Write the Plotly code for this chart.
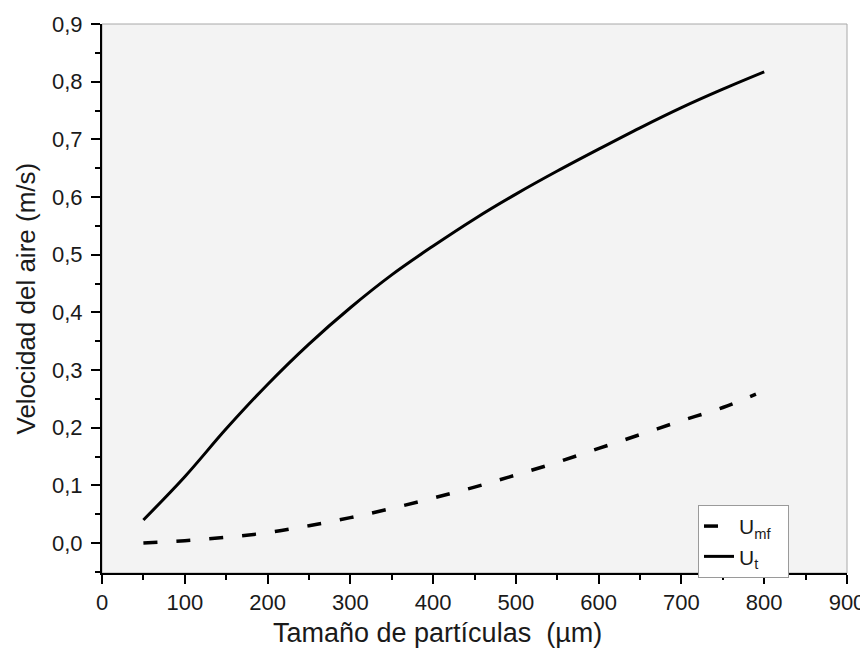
import plotly.graph_objects as go

# Data
size_ut = [50, 100, 150, 200, 250, 300, 350, 400, 450, 500, 550, 600, 650, 700, 750, 800]
u_t = [0.040, 0.115, 0.198, 0.275, 0.345, 0.408, 0.465, 0.515, 0.562, 0.605, 0.645, 0.683, 0.720, 0.755, 0.787, 0.817]

size_umf = [50, 100, 150, 200, 250, 300, 350, 400, 450, 500, 550, 600, 650, 700, 750, 790]
u_mf = [0.0, 0.004, 0.010, 0.018, 0.030, 0.044, 0.060, 0.078, 0.097, 0.118, 0.140, 0.164, 0.188, 0.212, 0.235, 0.258]

x_ticks = [0, 100, 200, 300, 400, 500, 600, 700, 800, 900]
y_ticks = [0.0, 0.1, 0.2, 0.3, 0.4, 0.5, 0.6, 0.7, 0.8, 0.9]

x_title = "Tamaño de partículas  (µm)"
y_title = "Velocidad del aire (m/s)"

FONT = "Liberation Sans, Arial, sans-serif"
TXT = "#1a1a1a"

fig = go.Figure()
fig.add_trace(go.Scatter(
    x=size_umf, y=u_mf, mode="lines", name="U<sub>mf</sub>  ",
    line=dict(color="black", width=3.5, dash="14px,19px", shape="spline"),
))
fig.add_trace(go.Scatter(
    x=size_ut, y=u_t, mode="lines", name="U<sub>t</sub>",
    line=dict(color="black", width=3, shape="spline"),
))

# page has an 8px body margin, so the figure is 8px smaller and shifted
fig.update_layout(
    width=860, height=649,
    margin=dict(l=94, r=21, t=16, b=84),
    paper_bgcolor="white",
    plot_bgcolor="#f3f3f3",
    separators=", ",
    font=dict(family=FONT, size=22, color=TXT),
    showlegend=True,
    legend=dict(
        x=0.8, y=0.124, xanchor="left", yanchor="top",
        bgcolor="white", bordercolor="#9a9a9a", borderwidth=1,
        font=dict(family=FONT, size=21, color=TXT),
        tracegroupgap=0, itemwidth=30,
    ),
    shapes=[dict(type="rect", xref="paper", yref="paper", x0=0, y0=0, x1=1, y1=1,
                 line=dict(color="#a8a8a8", width=1), layer="below")],
    annotations=[
        dict(text=x_title, xref="paper", yref="paper", x=0.45, y=0, yshift=-60,
             xanchor="center", yanchor="middle", showarrow=False,
             font=dict(family=FONT, size=27, color=TXT)),
        dict(text=y_title, xref="paper", yref="paper", x=0, y=0.5, xshift=-77,
             xanchor="center", yanchor="middle", textangle=-90, showarrow=False,
             font=dict(family=FONT, size=26, color=TXT)),
    ],
)

fig.update_xaxes(
    range=[0, 900], tickvals=x_ticks, ticktext=[str(v) for v in x_ticks],
    showgrid=False, zeroline=False, automargin=False,
    showline=True, linecolor="black", linewidth=2,
    ticks="outside", ticklen=9, tickwidth=2, tickcolor="black",
    minor=dict(ticks="outside", ticklen=5, tickwidth=2, tickcolor="black", dtick=50, tick0=0, showgrid=False),
    tickfont=dict(family=FONT, size=22, color=TXT),
)
fig.update_yaxes(
    range=[-0.052, 0.9], tickvals=y_ticks, tickformat=".1f",
    showgrid=False, zeroline=False, automargin=False,
    showline=True, linecolor="black", linewidth=2,
    ticks="outside", ticklen=9, tickwidth=2, tickcolor="black",
    minor=dict(ticks="outside", ticklen=5, tickwidth=2, tickcolor="black", dtick=0.05, tick0=0, showgrid=False),
    tickfont=dict(family=FONT, size=22, color=TXT), ticklabelstandoff=4,
)

fig.write_html("out.html")
